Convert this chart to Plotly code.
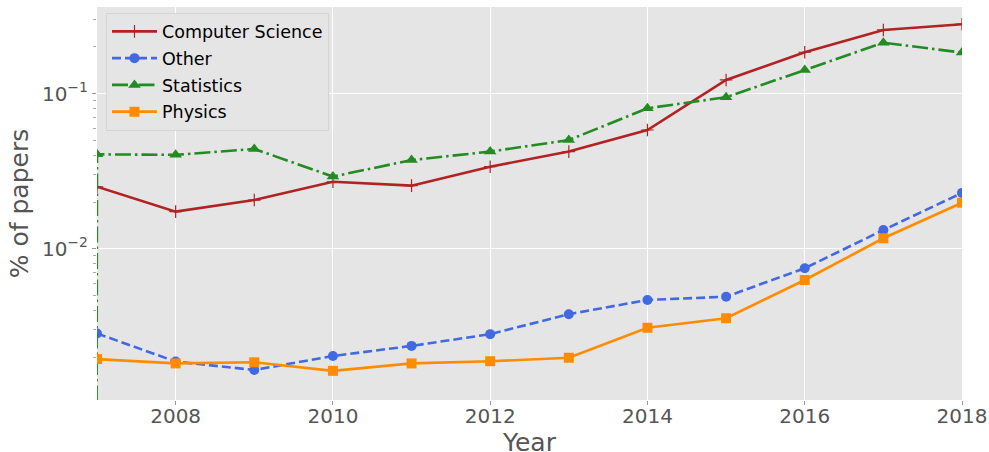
import plotly.graph_objects as go

years = [2006, 2007, 2008, 2009, 2010, 2011, 2012, 2013, 2014, 2015, 2016, 2017, 2018]
computer_science = [None, 0.0251, 0.01734, 0.0206, 0.0270, 0.0255, 0.0338, 0.0423, 0.0583, 0.1226, 0.185, 0.2576, 0.2806]
other = [None, 0.00284, 0.00187, 0.00165, 0.00203, 0.00236, 0.00281, 0.00378, 0.00467, 0.00490, 0.00748, 0.0132, 0.0229]
statistics = [0.0, 0.0406, 0.0403, 0.0440, 0.0292, 0.0373, 0.0423, 0.0502, 0.0805, 0.0948, 0.142, 0.2134, 0.184]
physics = [None, 0.00194, 0.00182, 0.00185, 0.00163, 0.00182, 0.00188, 0.00198, 0.00309, 0.00356, 0.00628, 0.01167, 0.0198]

x_ticks = [2008, 2010, 2012, 2014, 2016, 2018]
y_ticks = [0.01, 0.1]
y_tick_labels = ["10<sup>\u22122</sup>", "10<sup>\u22121</sup>"]
y_minor = [0.002, 0.003, 0.004, 0.005, 0.006, 0.007, 0.008, 0.009,
           0.02, 0.03, 0.04, 0.05, 0.06, 0.07, 0.08, 0.09, 0.2, 0.3]


def clip_nonpos(vals):
    # mimic log-scale clipping of non-positive values
    return [None if v is None else (v if v > 0 else 1e-300) for v in vals]


series = [
    ("Computer Science", computer_science, "#B22222", "solid", "cross-thin", 9),
    ("Other", other, "#4169E1", "9px,4px", "circle", 10),
    ("Statistics", statistics, "#228B22", "16px,4px,2.5px,4px", "triangle-up", 11),
    ("Physics", physics, "#FF8C00", "solid", "square", 10),
]

fig = go.Figure()
for name, vals, color, dash, symbol, msize in series:
    marker = dict(symbol=symbol, size=msize, color=color)
    if symbol == "cross-thin":
        marker["line"] = dict(color=color, width=1.2)
    fig.add_trace(go.Scatter(
        x=years, y=clip_nonpos(vals), name=name, mode="lines+markers",
        line=dict(color=color, width=2.6, dash=dash),
        marker=marker, legendgroup=name,
    ))

fig.update_layout(
    width=989, height=452,
    margin=dict(l=97, r=27, t=7, b=52),
    paper_bgcolor="white", plot_bgcolor="#E5E5E5",
    font=dict(family="DejaVu Sans", color="#555555"),
    legend=dict(
        x=0.0104, y=0.986, xanchor="left", yanchor="top",
        bgcolor="#E5E5E5", bordercolor="#D4D4D4", borderwidth=1,
        font=dict(size=17.5, color="black"), itemwidth=45,
        tracegroupgap=1,
    ),
    showlegend=True,
    annotations=[dict(
        text="Year", xref="paper", yref="paper", x=0.5, y=-0.108,
        xanchor="center", yanchor="middle", showarrow=False,
        font=dict(size=25, color="#555555"),
    )],
)
fig.update_xaxes(
    range=[2007, 2018], tickvals=x_ticks, showgrid=True, gridcolor="white",
    gridwidth=1, zeroline=False, ticks="outside", ticklen=4, tickcolor="#999999",
    tickfont=dict(size=20, color="#555555"), automargin=False,
    ticklabelstandoff=-6,
    showline=False,
)
fig.update_yaxes(
    type="log", range=[-2.976, -0.441], tickvals=y_ticks, ticktext=y_tick_labels,
    showgrid=True, gridcolor="white", gridwidth=1, zeroline=False,
    ticks="outside", ticklen=4, tickcolor="#999999", automargin=False,
    tickfont=dict(size=20, color="#555555"),
    minor=dict(tickmode="array", tickvals=y_minor, ticks="outside", ticklen=3,
               tickcolor="#AAAAAA", showgrid=False),
    title=dict(text="% of papers", font=dict(size=25, color="#555555"), standoff=6),
    showline=False,
)

fig.write_html(
    "out.html",
    config={"displayModeBar": False},
    post_script="document.body.style.margin='0';document.body.style.padding='0';",
)
